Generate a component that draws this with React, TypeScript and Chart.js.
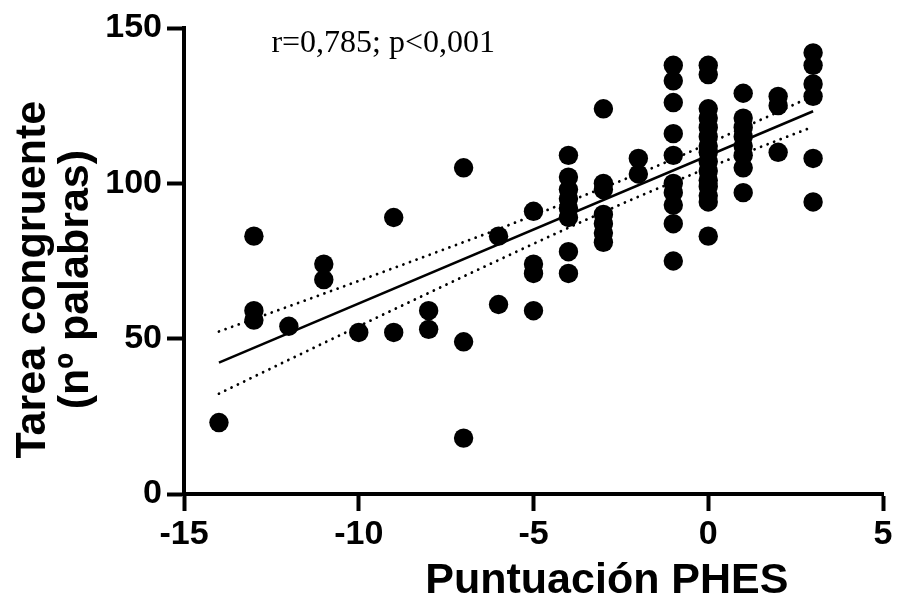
import React, { useEffect, useRef } from 'react';
import { Chart, registerables } from 'chart.js';

Chart.register(...registerables);

// PHES score levels (x) and the word counts observed at each level (y)
const phesLevels = [-14, -13, -12, -11, -10, -9, -8, -7, -6, -5, -4, -3, -2, -1, 0, 1, 2, 3];
const wordsByLevel = [
  [23],
  [83, 59, 56],
  [54],
  [74, 69],
  [52],
  [89, 52],
  [59, 53],
  [105, 49, 18],
  [83, 61],
  [91, 74, 71, 59],
  [109, 102, 98, 95, 92, 89, 78, 71],
  [124, 100, 98, 90, 87, 84, 81],
  [108, 103],
  [138, 133, 126, 116, 109, 100, 97, 93, 87, 75],
  [138, 135, 124, 121, 118, 115, 112, 110, 107, 104, 101, 99, 96, 94, 83],
  [129, 121, 118, 115, 112, 109, 105, 97],
  [128, 125, 110],
  [142, 138, 132, 128, 108, 94],
];

// Regression line (read endpoints)
const fitX = [-14, 3];
const fitY = [42.3, 123.2];

// 95% confidence band (read values)
const bandX = [-14, -12, -10, -8, -6, -4, -2, -1, 0, 1, 2, 3];
const bandUpper = [52.3, 60.4, 68.6, 76.9, 85.3, 94.1, 103.1, 107.8, 112.8, 117.9, 123.0, 128.2];
const bandLower = [32.3, 43.2, 54.0, 64.7, 75.3, 85.7, 95.7, 100.4, 105.0, 109.5, 113.9, 118.2];

// Axis ticks
const xTicks = [-15, -10, -5, 0, 5];
const yTicks = [0, 50, 100, 150];

const xTitle = 'Puntuación PHES';
const yTitle = ['Tarea congruente', '(nº palabras)'];
const annotationText = 'r=0,785; p<0,001';
const annotationPos = { x: -9.3, y: 142.3 };
const xTitleCenter = -2.9;
const yTitleCenter = 69;

const SANS = '"Liberation Sans", Arial, sans-serif';
const SERIF = '"Liberation Serif", "Times New Roman", serif';

export default function App() {
  const ref = useRef<HTMLCanvasElement | null>(null);

  useEffect(() => {
    if (!ref.current) return;
    const points: { x: number; y: number }[] = [];
    phesLevels.forEach((lv, i) => {
      wordsByLevel[i].forEach((v) => points.push({ x: lv, y: v }));
    });
    const fit = fitX.map((x, i) => ({ x, y: fitY[i] }));
    const up = bandX.map((x, i) => ({ x, y: bandUpper[i] }));
    const lo = bandX.map((x, i) => ({ x, y: bandLower[i] }));

    const textPlugin = {
      id: 'textPlugin',
      afterDraw(chart: any) {
        const ctx = chart.ctx;
        const xs = chart.scales.x;
        const ys = chart.scales.y;
        ctx.save();
        ctx.fillStyle = '#000';
        ctx.font = `32px ${SERIF}`;
        ctx.textAlign = 'center';
        ctx.textBaseline = 'alphabetic';
        ctx.fillText(annotationText, xs.getPixelForValue(annotationPos.x), ys.getPixelForValue(annotationPos.y));
        ctx.font = `bold 43px ${SANS}`;
        ctx.textBaseline = 'middle';
        ctx.fillText(xTitle, xs.getPixelForValue(xTitleCenter), chart.height - 20);
        // y title, two rotated lines
        ctx.translate(0, ys.getPixelForValue(yTitleCenter));
        ctx.rotate(-Math.PI / 2);
        ctx.font = `bold 43px ${SANS}`;
        ctx.fillText(yTitle[0], 0, 33);
        ctx.fillText(yTitle[1], 0, 76);
        ctx.restore();
      },
    };

    const chart = new Chart(ref.current, {
      type: 'scatter',
      data: {
        datasets: [
          {
            data: points,
            backgroundColor: '#000',
            borderWidth: 0,
            pointRadius: 9.7,
            pointHoverRadius: 9.7,
            order: 0,
          },
          {
            data: fit,
            showLine: true,
            borderColor: '#000',
            borderWidth: 2.5,
            pointRadius: 0,
            order: 1,
          },
          {
            data: up,
            showLine: true,
            borderColor: '#000',
            borderWidth: 2.8,
            borderDash: [0.01, 7],
            borderCapStyle: 'round',
            cubicInterpolationMode: 'monotone',
            pointRadius: 0,
            order: 2,
          },
          {
            data: lo,
            showLine: true,
            borderColor: '#000',
            borderWidth: 2.8,
            borderDash: [0.01, 7],
            borderCapStyle: 'round',
            cubicInterpolationMode: 'monotone',
            pointRadius: 0,
            order: 3,
          },
        ] as any,
      },
      options: {
        animation: false,
        responsive: false,
        maintainAspectRatio: false,
        events: [],
        layout: { padding: { left: 0, top: 28, right: 15, bottom: 0 } },
        plugins: { legend: { display: false }, tooltip: { enabled: false } },
        scales: {
          x: {
            type: 'linear',
            min: xTicks[0],
            max: xTicks[xTicks.length - 1],
            afterFit(scale: any) {
              scale.height = 107;
            },
            afterBuildTicks(scale: any) {
              scale.ticks = xTicks.map((v) => ({ value: v }));
            },
            ticks: {
              color: '#000',
              padding: 3,
              font: { family: SANS, size: 34, weight: 'bold' },
            },
            grid: {
              display: true,
              drawOnChartArea: false,
              drawTicks: true,
              tickLength: 17,
              tickWidth: 4,
              tickColor: '#000',
              color: '#000',
            },
            border: { display: true, width: 4, color: '#000' },
            title: { display: false },
          },
          y: {
            type: 'linear',
            min: yTicks[0],
            max: yTicks[yTicks.length - 1],
            afterFit(scale: any) {
              scale.width = 184;
            },
            afterBuildTicks(scale: any) {
              scale.ticks = yTicks.map((v) => ({ value: v }));
            },
            ticks: {
              color: '#000',
              padding: 5,
              font: { family: SANS, size: 34, weight: 'bold' },
            },
            grid: {
              display: true,
              drawOnChartArea: false,
              drawTicks: true,
              tickLength: 17,
              tickWidth: 4,
              tickColor: '#000',
              color: '#000',
            },
            border: { display: true, width: 4, color: '#000' },
            title: { display: false },
          },
        },
      } as any,
      plugins: [textPlugin],
    });
    return () => chart.destroy();
  }, []);

  return (
    <div style={{ position: 'absolute', left: 0, top: 0, width: 898, height: 601, background: '#fff' }}>
      <canvas ref={ref} width={898} height={601} />
    </div>
  );
}
